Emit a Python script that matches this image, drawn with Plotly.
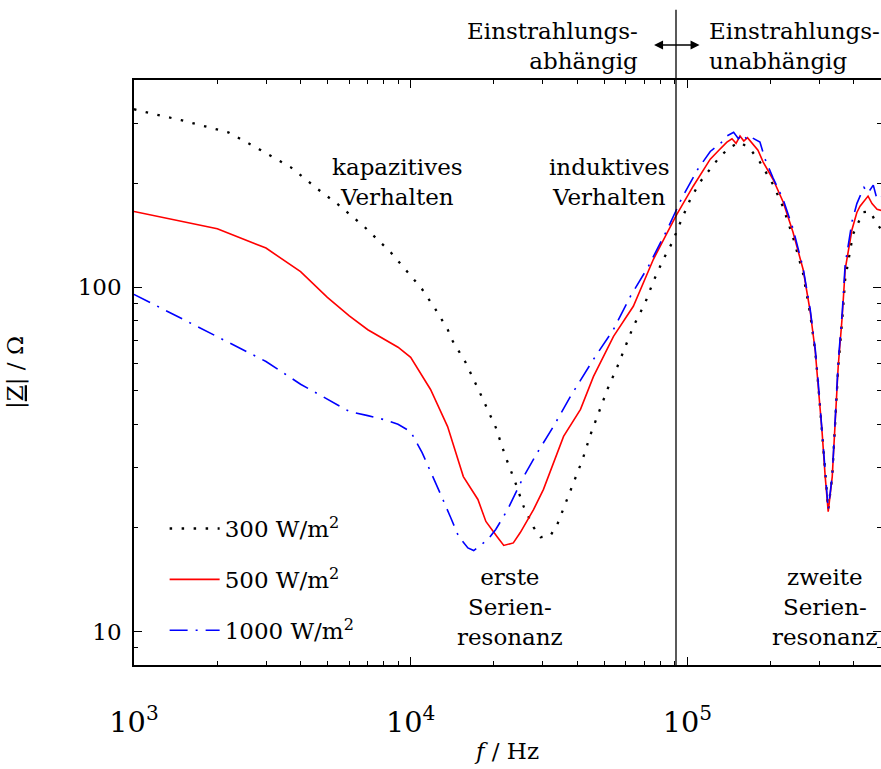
import numpy as np
import plotly.graph_objects as go

# |Z| (Ohm) over frequency (Hz) for three irradiance levels
f_300 = [1000, 1100, 1480, 2190, 2830, 3690, 4620, 5450, 6770, 8470, 10260, 11000, 12300,
         13600, 14200, 15800, 17900, 20300, 22000, 23900, 25600, 27800, 29500, 32000, 33900,
         36300, 38800, 41800, 44700, 47700, 51400, 55900, 59700, 63800, 70500, 75400, 81900,
         88300, 94400, 102500, 111000, 121000, 131500, 143000, 155000, 169000, 183000, 204000,
         222000, 241000, 262000, 278000, 290000, 297000, 307000, 315000, 323000, 334000,
         342000, 351000, 363000, 372000, 397000, 432000, 458000, 485000, 519000]
z_300 = [329, 322.6, 305.8, 282, 251.9, 223, 192.7, 174.3, 150.4, 126.4, 105.5, 98.7, 86.3,
         75.5, 69.7, 60.5, 48.9, 39.2, 32.3, 27.1, 23.1, 20.1, 18.8, 19.0, 20.5,
         23.7, 27.3, 31.6, 37.4, 43.3, 50.5, 58.9, 67.4, 77.0, 90.4, 104.1, 120.6,
         135.2, 154.5, 180.2, 201.9, 220, 240.3, 255.3, 264, 251.9, 231, 199,
         170.8, 139.7, 109.8, 83.5, 65.2, 52.6, 37.9, 28.2, 22.6, 28.2,
         40.5, 58.5, 80.7, 105.5, 142.6, 165.2, 166, 152.5, 142.6]

f_500 = [1000, 2000, 3000, 4000, 5000, 6000, 7000, 8000, 9000, 10000, 11800, 13600, 15500,
         17500, 18700, 20600, 21700, 23500, 24900, 27800, 30200, 35700, 41100, 45800, 54100,
         63800, 75400, 84700, 91300, 105000, 121000, 130000, 139000, 145000, 150000, 155000,
         160000, 165000, 173000, 180000, 188000, 204000, 222000, 241000, 262000, 278000,
         290000, 297000, 307000, 315000, 323000, 334000, 342000, 351000, 363000, 372000,
         394000, 410000, 421000, 435000, 450000, 465000, 485000, 519000]
z_500 = [166, 148, 130, 111, 93.5, 82.6, 75.3, 70.6, 67, 62.6, 50.5, 39.4, 28.2,
         24.2, 20.9, 18.8, 17.8, 18.1, 19.4, 22.6, 25.9, 36.9, 44.2, 55.1, 72.0,
         88.1, 120.6, 144.5, 162, 196.6, 235.6, 250, 264, 270, 262, 275,
         266, 272, 260.5, 250, 231, 206, 177, 144.5, 112.8, 85.2,
         65.2, 52.9, 37.9, 28.2, 22.3, 28.2, 40.5, 58.9, 82.4, 112.8,
         147.5, 165, 172, 178, 184, 175, 168.6, 166]

f_1000 = [1000, 2000, 3000, 4000, 5000, 6000, 7000, 8000, 9000, 10000, 11000, 11500, 12600,
          13900, 14900, 16100, 16900, 19000, 20300, 22400, 25600, 28700, 32800, 37800, 45800,
          54100, 62300, 72300, 84700, 95900, 109000, 121000, 132000, 139000, 147000, 153000,
          158000, 165000, 170000, 183000, 191000, 204000, 222000, 241000, 262000, 278000,
          290000, 297000, 307000, 315000, 323000, 334000, 342000, 351000, 363000, 372000,
          394000, 410000, 421000, 435000, 450000, 470000, 485000, 519000]
z_1000 = [95.4, 71.7, 60.9, 52.3, 47.4, 43.6, 42.4, 41.3, 40.0, 38.1, 33.1, 30.6, 25.9,
          21.6, 18.9, 17.5, 17.2, 18.5, 19.8, 22.6, 28.2, 33.1, 39.4, 48.2, 61.8,
          75.5, 94.2, 115, 147.5, 182.7, 220, 248, 262, 275, 282, 270,
          279, 268, 273, 264, 235.6, 208, 180, 148, 114, 86.3,
          66, 53.3, 38.2, 28.2, 22.6, 28.4, 41.3, 60.5, 84.6, 116.6,
          155.5, 175, 184, 195, 188, 198, 180, 186]

series_names = ["300 W/m<sup>2</sup>", "500 W/m<sup>2</sup>", "1000 W/m<sup>2</sup>"]
boundary_f = 9.1e4  # Einstrahlungs-abhaengig / -unabhaengig

x_range = [3, 5.70]
FONT = "DejaVu Serif"

fig = go.Figure()
fig.add_trace(go.Scatter(x=f_300, y=z_300, mode="lines", name=series_names[0],
                         line=dict(color="black", width=2.3, dash="2.5px,9.5px"),
                         legendgroup="a"))
fig.add_trace(go.Scatter(x=f_500, y=z_500, mode="lines", name=series_names[1],
                         line=dict(color="#ff0000", width=1.6), legendgroup="b"))
fig.add_trace(go.Scatter(x=f_1000, y=z_1000, mode="lines", name=series_names[2],
                         line=dict(color="#0000ff", width=1.6, dash="18px,8px,2px,8px"),
                         legendgroup="c"))

# boundary line, drawn in paper coords so it can run above the frame
bx = (np.log10(boundary_f) - x_range[0]) / (x_range[1] - x_range[0])
fig.add_shape(type="line", xref="paper", yref="paper", x0=bx, x1=bx, y0=0, y1=1.12,
              line=dict(color="black", width=1.3), layer="above")

fig.add_annotation(xref="paper", yref="paper", x=bx + 0.0315, y=1.06,
                   ax=-47, ay=0, text="", showarrow=True, arrowhead=2, arrowside="end+start",
                   arrowsize=1.2, arrowwidth=1.5, arrowcolor="black")

txt = dict(font=dict(family=FONT, size=23, color="black"), showarrow=False,
           xref="paper", yref="paper", yanchor="middle")
fig.add_annotation(x=0.677, y=1.058, xanchor="right", align="right",
                   text="Einstrahlungs-<br>abhängig", **txt)
fig.add_annotation(x=0.767, y=1.058, xanchor="left", align="left",
                   text="Einstrahlungs-<br>unabhängig", **txt)
fig.add_annotation(x=0.353, y=0.825, xanchor="center", text="kapazitives<br>Verhalten", **txt)
fig.add_annotation(x=0.636, y=0.825, xanchor="center", text="induktives<br>Verhalten", **txt)
fig.add_annotation(x=0.503, y=0.099, xanchor="center", text="erste<br>Serien-<br>resonanz", **txt)
fig.add_annotation(x=0.925, y=0.099, xanchor="center", text="zweite<br>Serien-<br>resonanz", **txt)

axis_common = dict(showline=True, linecolor="black", linewidth=1.5, mirror="ticks",
                   ticks="inside", ticklen=8, tickwidth=1.3, tickcolor="black",
                   showgrid=False, zeroline=False, automargin=False,
                   minor=dict(ticks="inside", ticklen=4, tickwidth=1, tickcolor="black",
                              dtick="D1", showgrid=False),
                   tickfont=dict(family=FONT, size=23, color="black"))

fig.update_xaxes(type="log", range=x_range, dtick=1, exponentformat="power",
                 ticklabelstandoff=32,
                 title=dict(text="<i>f</i> / Hz", font=dict(family=FONT, size=23, color="black"),
                            standoff=5),
                 **axis_common)
fig.update_yaxes(type="log", range=[np.log10(8), np.log10(400)], dtick=1,
                 exponentformat="none", ticklabelstandoff=6,
                 title=dict(text="|<u>Z</u>| / Ω", font=dict(family=FONT, size=23, color="black"),
                            standoff=48),
                 **axis_common)

fig.update_layout(
    width=881, height=769,
    margin=dict(l=134, r=0, t=80, b=104),
    paper_bgcolor="white", plot_bgcolor="white",
    font=dict(family=FONT, size=23, color="black"),
    showlegend=True,
    legend=dict(x=0.041, y=0.27, xanchor="left", yanchor="top", bgcolor="rgba(0,0,0,0)",
                font=dict(family=FONT, size=23, color="black"), tracegroupgap=18,
                itemwidth=50),
)

# drop the default 8px page margin so the figure fills the window
fig.write_html("out.html", config={"displayModeBar": False},
               post_script="document.body.style.margin='0';document.body.style.overflow='hidden';")
